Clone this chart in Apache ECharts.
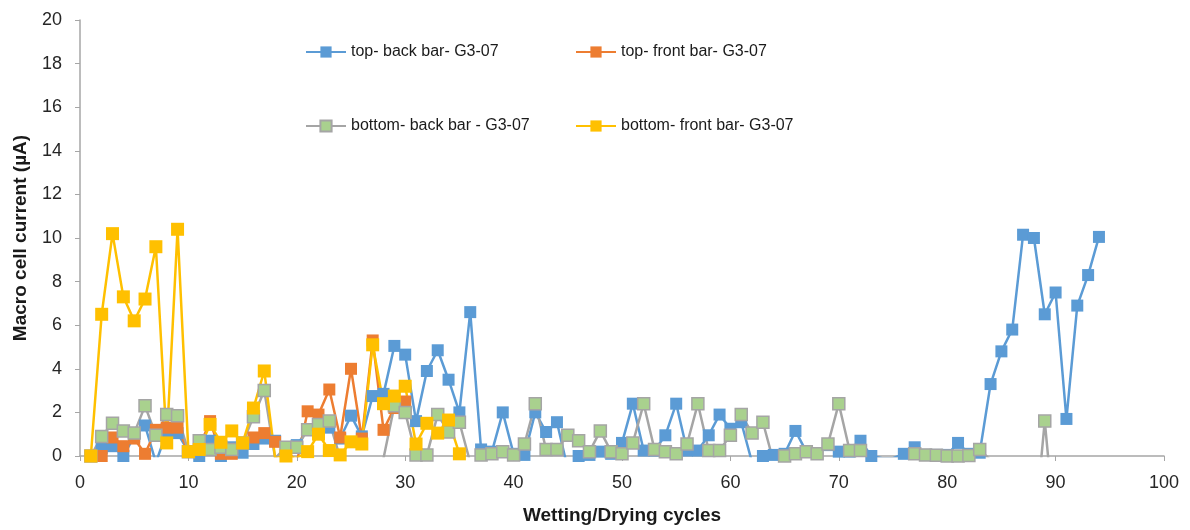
<!DOCTYPE html>
<html>
<head>
<meta charset="utf-8">
<script src="https://cdn.jsdelivr.net/npm/echarts@6/dist/echarts.min.js"></script>
<style>
  html, body { margin: 0; padding: 0; background: #fff; }
  #chart { width: 1190px; height: 530px; }
</style>
</head>
<body>
<div id="chart"></div>
<script>
// cycles on the x axis, values in µA
// (values below 0 sit outside the axis and only show as clipped line ends)
const topBackCycles = [];
for (let c = 1; c <= 94; c++) topBackCycles.push(c);
const topBackValues = [
  0, 0.35, 0.45, 0, 0.9, 1.4, -0.3, 1.1, 1.05, 0.2,
  0, 0.7, 0, 0.4, 0.15, 0.55, 0.8, 0.7, 0.3, 0.5,
  1.2, 1.4, 1.3, 0.8, 1.85, 0.9, 2.75, 2.85, 5.05, 4.65,
  1.6, 3.9, 4.85, 3.5, 2.0, 6.6, 0.3, 0.2, 2.0, 0.1,
  0.05, 2.0, 1.1, 1.55, -0.6, 0, 0.05, 0.2, 0.1, 0.6,
  2.4, 0.25, 0.25, 0.95, 2.4, 0.25, 0.25, 0.95, 1.9, 1.25,
  1.55, -0.3, 0, 0.05, 0.1, 1.15, 0.2, 0.1, 0.5, 0.2,
  0.2, 0.7, 0, -0.1, -0.1, 0.1, 0.4, 0.05, 0.05, 0.05,
  0.6, 0.1, 0.15, 3.3, 4.8, 5.8, 10.15, 10.0, 6.5, 7.5,
  1.7, 6.9, 8.3, 10.05
];

const topFrontCycles = [];
for (let c = 1; c <= 30; c++) topFrontCycles.push(c);
const topFrontValues = [
  0, 0, 0.85, 0.45, 0.8, 0.1, 1.2, 1.3, 1.3, 0.2,
  0.4, 1.6, 0.1, 0.1, 0.6, 0.85, 1.05, 0.65, 0.3, -0.3,
  2.05, 1.9, 3.05, 0.85, 4.0, 0.8, 5.3, 1.2, 2.2, 2.5
];

const bottomBackCycles = [];
for (let c = 1; c <= 90; c++) bottomBackCycles.push(c);
const bottomBackValues = [
  0, 0.9, 1.5, 1.15, 1.05, 2.3, 0.95, 1.9, 1.85, 0.2,
  0.7, 0.3, 0.4, 0.3, 0.6, 1.8, 3.0, -0.1, 0.4, 0.4,
  1.2, 1.45, 1.6, -0.1, -1, -1, -1, -0.1, 2.3, 2.0,
  0.05, 0.05, 1.9, 1.1, 1.55, -0.3, 0.05, 0.1, 0.2, 0.05,
  0.55, 2.4, 0.3, 0.3, 0.95, 0.7, 0.2, 1.15, 0.2, 0.1,
  0.6, 2.4, 0.3, 0.2, 0.1, 0.55, 2.4, 0.25, 0.25, 0.95,
  1.9, 1.05, 1.55, -0.3, 0, 0.1, 0.2, 0.1, 0.55, 2.4,
  0.25, 0.25, -0.1, -0.1, -0.1, -0.1, 0.1, 0.05, 0.03, 0,
  0, 0.02, 0.3, -0.2, -1, -2, -3, -3.7, 1.6, -3.7
];

const bottomFrontCycles = [];
for (let c = 1; c <= 35; c++) bottomFrontCycles.push(c);
const bottomFrontValues = [
  0, 6.5, 10.2, 7.3, 6.2, 7.2, 9.6, 0.6, 10.4, 0.2,
  0.3, 1.45, 0.63, 1.15, 0.6, 2.2, 3.9, -0.1, 0, -0.1,
  0.2, 1.0, 0.25, 0.05, 0.65, 0.55, 5.1, 2.4, 2.75, 3.2,
  0.55, 1.5, 1.05, 1.65, 0.1
];

const seriesNames = [
  'top- back bar- G3-07',
  'top- front bar- G3-07',
  'bottom- back bar - G3-07',
  'bottom- front bar- G3-07'
];

const xTicks = { min: 0, max: 100, interval: 10 };
const yTicks = { min: 0, max: 20, interval: 2 };

const font = 'Liberation Sans, Arial, sans-serif';
const pairs = (xs, ys) => xs.map((x, i) => [x, ys[i]]);

const chart = echarts.init(document.getElementById('chart'));

function lineSeries(name, data, lineColor, fill, border, size) {
  return {
    name: name,
    type: 'line',
    data: data,
    symbol: 'rect',
    symbolSize: size,
    showAllSymbol: true,
    clip: true,
    lineStyle: { color: lineColor, width: 2.5 },
    itemStyle: { color: fill, borderColor: border, borderWidth: border ? 1.5 : 0 },
    emphasis: { disabled: true }
  };
}

function legendAt(name, left, top) {
  return {
    data: [name],
    left: left, top: top,
    padding: 0,
    itemWidth: 40, itemHeight: 14,
    textStyle: { fontFamily: font, fontSize: 16, color: '#1a1a1a' },
    selectedMode: false
  };
}

chart.setOption({
  animation: false,
  backgroundColor: '#fff',
  grid: { left: 80, right: 26, top: 20, bottom: 73 },
  legend: [
    legendAt(seriesNames[0], 305, 44),
    legendAt(seriesNames[1], 575, 44),
    legendAt(seriesNames[2], 305, 118),
    legendAt(seriesNames[3], 575, 118)
  ],
  xAxis: {
    type: 'value',
    min: xTicks.min, max: xTicks.max, interval: xTicks.interval,
    name: 'Wetting/Drying cycles',
    nameLocation: 'middle',
    nameGap: 50,
    nameTextStyle: { fontFamily: font, fontSize: 19, fontWeight: 'bold', color: '#1a1a1a' },
    axisLine: { lineStyle: { color: '#A6A6A6', width: 1.5 } },
    axisTick: { show: true, length: 5, lineStyle: { color: '#A6A6A6' } },
    axisLabel: { margin: 18, fontFamily: font, fontSize: 18, color: '#262626' },
    splitLine: { show: false }
  },
  yAxis: {
    type: 'value',
    min: yTicks.min, max: yTicks.max, interval: yTicks.interval,
    name: 'Macro cell current (µA)',
    nameLocation: 'middle',
    nameGap: 50,
    nameRotate: 90,
    nameTextStyle: { fontFamily: font, fontSize: 19, fontWeight: 'bold', color: '#1a1a1a' },
    axisLine: { show: true, lineStyle: { color: '#A6A6A6', width: 1.5 } },
    axisTick: { show: true, length: 5, lineStyle: { color: '#A6A6A6' } },
    axisLabel: { margin: 18, fontFamily: font, fontSize: 18, color: '#262626' },
    splitLine: { show: false }
  },
  series: [
    lineSeries(seriesNames[0], pairs(topBackCycles, topBackValues), '#5B9BD5', '#5B9BD5', null, 12),
    lineSeries(seriesNames[1], pairs(topFrontCycles, topFrontValues), '#ED7D31', '#ED7D31', null, 12),
    lineSeries(seriesNames[2], pairs(bottomBackCycles, bottomBackValues), '#A5A5A5', '#A9D18E', '#A5A5A5', 12),
    lineSeries(seriesNames[3], pairs(bottomFrontCycles, bottomFrontValues), '#FFC000', '#FFC000', null, 13)
  ]
});

window.onresize = () => chart.resize();
</script>
</body>
</html>
